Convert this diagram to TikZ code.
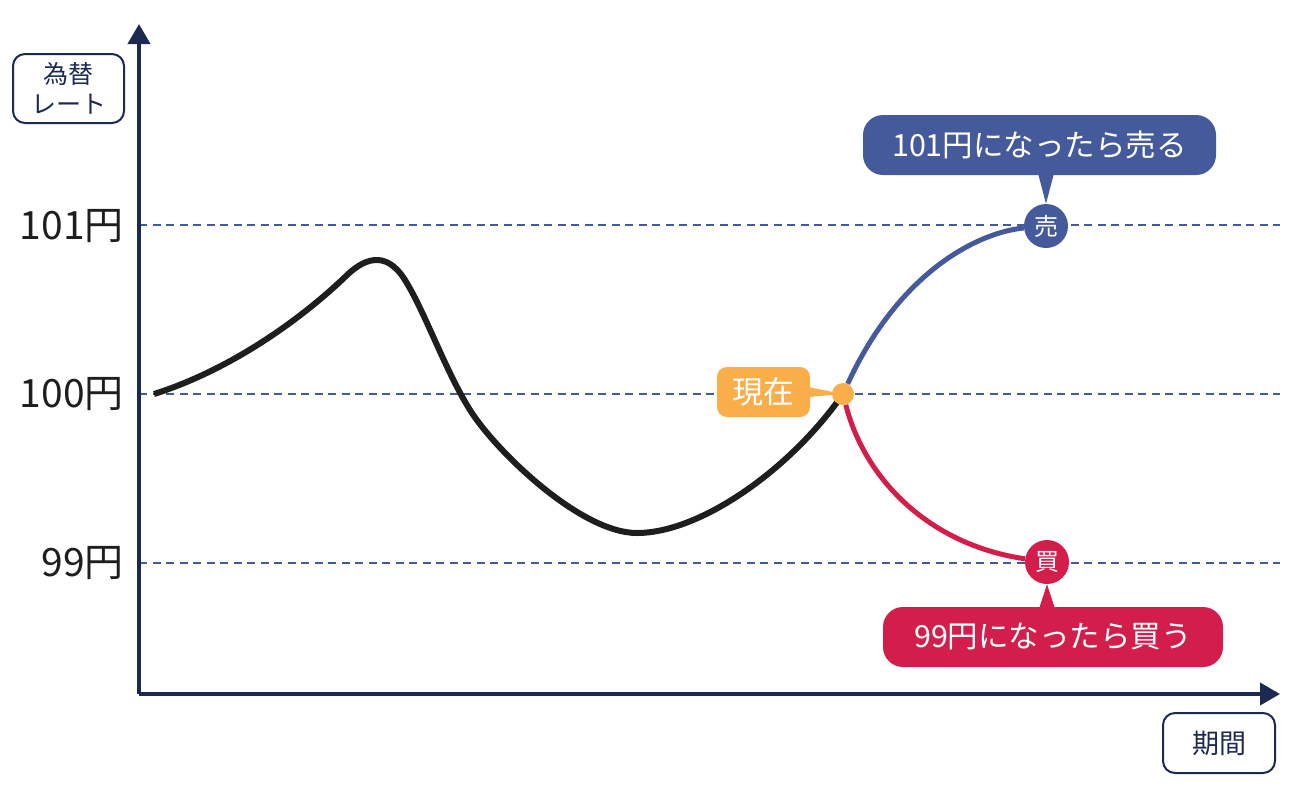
\documentclass[tikz,border=0pt]{standalone}
\usepackage{fontspec}
\setmainfont{Noto Sans CJK JP}
\usetikzlibrary{arrows.meta, calc}
\definecolor{axisnavy}{HTML}{1C2A52}
\definecolor{sellblue}{HTML}{455A9A}
\definecolor{buyred}{HTML}{D31E4B}
\definecolor{noworange}{HTML}{F9AE4A}
\definecolor{priceblack}{HTML}{1E1E1E}

\tikzset{
  axisline/.style={axisnavy, line width=4pt, -{Triangle[length=20pt,width=22pt]}},
  rateline/.style={sellblue, line width=2.3pt, dash pattern=on 8pt off 5.5pt},
  tagbox/.style={draw=axisnavy, line width=2pt, fill=white, rounded corners=12pt,
    text=axisnavy, align=center, inner sep=0pt},
  notebox/.style={rounded corners=20pt, text=white, inner sep=0pt, minimum height=60pt,
    font=\fontsize{30.5}{34}\selectfont},
  markdot/.style={circle, text=white, minimum size=44pt, inner sep=0pt,
    font=\fontsize{24}{26}\selectfont},
  yentick/.style={anchor=east, text=priceblack, inner sep=0pt,
    font=\fontsize{39}{40}\selectfont},
}

\begin{document}
\begin{tikzpicture}[x=1pt, y=-1pt]
  \useasboundingbox (0,0) rectangle (1295,788);
  \coordinate (origin) at (139,694);
  \coordinate (ytop) at (139,24);
  \coordinate (xend) at (1280,694);
  \coordinate (nowpt) at (843,394);
  % Rate levels
  \coordinate (r101) at (139,225);
  \coordinate (r100) at (139,394);
  \coordinate (r99) at (139,563);
  \draw[rateline] (r101) -- (r101 -| xend);
  \draw[rateline] (r100) -- (r100 -| xend);
  \draw[rateline] (r99) -- (r99 -| xend);
  \node[yentick] (l101) at (124,226) {101円};
  \node[yentick] (l100) at (124,394) {100円};
  \node[yentick] (l99) at (124,563) {99円};
  %
  % Axes
  \draw[axisline] (origin) -- (ytop);
  \draw[axisline] (origin) -- (xend);
  \node[tagbox, minimum width=111pt, minimum height=69pt, font=\fontsize{25}{30}\selectfont]
    (ratetag) at (68.5,88.5) {為替\\レート};
  \node[tagbox, minimum width=112pt, minimum height=60pt, font=\fontsize{27}{30}\selectfont]
    (periodtag) at (1219,743) {期間};
  %
  % Price so far
  \draw[priceblack, line width=6pt] (154,394)
    .. controls (230,370) and (300,320) .. (345,277)
    .. controls (362,260) and (385,248) .. (405,280)
    .. controls (425,312) and (445,370) .. (470,410)
    .. controls (495,450) and (580,533) .. (637,533)
    .. controls (700,533) and (790,470) .. (nowpt);
  %
  % Now marker
  \node[fill=noworange, rounded corners=10pt, text=white, minimum width=93pt,
    minimum height=50pt, inner sep=0pt, font=\fontsize{31}{33}\selectfont]
    (nowtag) at (763.5,392) {現在};
  \fill[noworange] ($(nowtag.east)+(-2,-5)$) -- (nowpt) -- ($(nowtag.east)+(-2,5)$) -- cycle;
  \node[circle, fill=noworange, minimum size=22pt, inner sep=0pt] (now) at (nowpt) {};
  %
  % Sell and buy
  \node[markdot, fill=sellblue] (sell) at (1046,226) {売};
  \node[markdot, fill=buyred] (buy) at (1047,562) {買};
  \draw[sellblue, line width=5pt] (now) .. controls (900,270) and (980,232) .. (sell);
  \draw[buyred, line width=5pt] (now) .. controls (865,480) and (930,545) .. (buy);
  \node[notebox, fill=sellblue, minimum width=353pt] (sellnote) at (1039.5,145) {101円になったら売る};
  \fill[sellblue] ($(sell.north |- sellnote.south)+(-8,-2)$) -- (sell.north)
    -- ($(sell.north |- sellnote.south)+(8,-2)$) -- cycle;
  \node[notebox, fill=buyred, minimum width=340pt] (buynote) at (1053,637) {99円になったら買う};
  \fill[buyred] ($(buy.south |- buynote.north)+(-8,2)$) -- (buy.south)
    -- ($(buy.south |- buynote.north)+(8,2)$) -- cycle;
\end{tikzpicture}
\end{document}
